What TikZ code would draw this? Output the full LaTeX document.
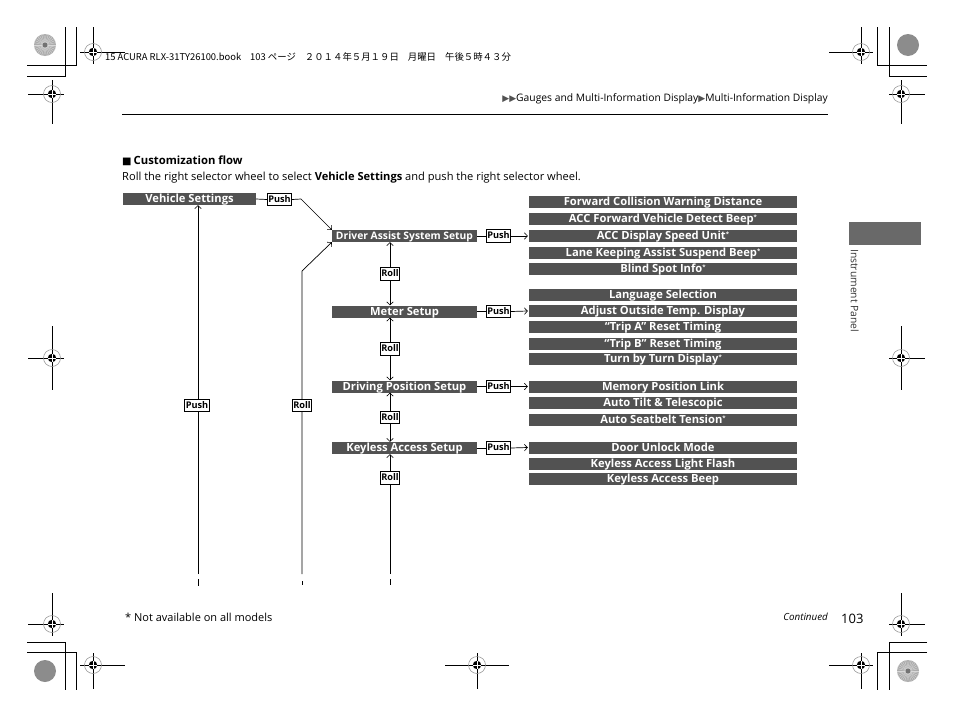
\documentclass[tikz,border=0pt]{standalone}
\usepackage{fontspec}
\setmainfont{Open Sans}
\newfontfamily\dejavu{DejaVu Sans}
\newfontfamily\jpfont{Noto Sans CJK JP}
\usetikzlibrary{arrows.meta}
\definecolor{boxgray}{RGB}{82,82,82}
\definecolor{tabgray}{RGB}{105,105,105}
\definecolor{markgray}{RGB}{140,140,140}
\newcommand{\fs}[1]{\fontsize{#1}{#1}\selectfont}
\newcommand{\starmark}{\raisebox{3pt}{\fs{6}*}}
\newcommand{\regmark}[6]{%
  \draw[line width=0.9pt] (#1-#3,#2) -- (#1+#4,#2) (#1,#2-#5) -- (#1,#2+#6);
  \draw[markgray,line width=0.5pt] (#1,#2) circle (8.5);
  \fill (#1,#2) circle (4.2);
  \draw[white,line width=0.7pt] (#1-4.2,#2) -- (#1+4.2,#2) (#1,#2-4.2) -- (#1,#2+4.2);
}
\newcommand{\soliddisk}[2]{\fill[gray!80!black!75] (#1,#2) circle (11);}
\newcommand{\patdisk}[2]{%
  \fill[gray!65] (#1,#2) circle (11);
  \foreach \a in {0,12,...,348} {\draw[white!70!gray,line width=0.35pt] (#1,#2) -- ++(\a:11);}
  \fill[gray!90!black] (#1,#2) circle (2.5);
}
\tikzset{
  gbox/.style={fill=boxgray,text=white,font=\bfseries\fs{11.2},minimum height=12pt,inner sep=0pt,text height=8pt,text depth=0.4pt},
  rbox/.style={gbox,minimum width=268pt},
  lbox/.style={gbox,minimum width=145pt},
  lab/.style={draw=black,line width=0.8pt,fill=white,font=\bfseries\fs{9.2},inner sep=1.1pt,text height=6.7pt,text depth=1.2pt,minimum height=12.5pt},
  conn/.style={line width=0.7pt},
  arr/.style={conn,-{Straight Barb[length=3pt,width=6.5pt,line width=0.6pt]}},
  darr/.style={conn,{Straight Barb[length=3pt,width=6.5pt,line width=0.6pt]}-{Straight Barb[length=3pt,width=6.5pt,line width=0.6pt]}},
  plain/.style={inner sep=0pt,anchor=base west},
}
\begin{document}
\begin{tikzpicture}[x=1pt,y=-1pt]
\useasboundingbox[fill=white] (0,0) rectangle (954,718);

% ---- printer marks ----
\patdisk{45}{45}
\soliddisk{908}{45}
\soliddisk{45}{671}
\patdisk{908}{671}
\begin{scope}[line width=0.9pt]
\draw (65,27) -- (65,76) -- (27,76);
\draw (76,27) -- (76,65) -- (27,65);
\draw (877,27) -- (877,65) -- (927,65);
\draw (889,27) -- (889,76) -- (927,76);
\draw (27,642) -- (65,642) -- (65,690);
\draw (27,652) -- (76,652) -- (76,690);
\draw (927,642) -- (889,642) -- (889,690);
\draw (927,652) -- (877,652) -- (877,690);
\end{scope}
\regmark{93}{52}{13}{32}{25}{12}
\regmark{52}{94}{24}{12}{14}{30}
\regmark{861}{52}{32}{12}{25}{12}
\regmark{901}{94}{12}{24}{14}{30}
\regmark{52}{358}{24}{12}{32}{32}
\regmark{901}{358}{12}{24}{32}{32}
\regmark{52}{624}{24}{12}{31}{12}
\regmark{901}{624}{12}{24}{31}{12}
\regmark{93}{665}{13}{32}{12}{24}
\regmark{861}{665}{32}{12}{12}{24}
\regmark{477}{665}{32}{32}{12}{24}

% ---- header ----
\node[plain] (hdr) at (105,60) {\jpfont\fs{9.4}15 ACURA RLX-31TY26100.book\hspace{9pt}103 ページ\hspace{9pt}２０１４年５月１９日\hspace{9pt}月曜日\hspace{9pt}午後５時４３分};
\node[inner sep=0pt,anchor=base east] (crumb) at (828,101.5) {\fs{10.3}{\color{boxgray}\dejavu\fs{9}▶▶}Gauges and Multi-Information Display{\color{boxgray}\dejavu\fs{9}▶}Multi-Information Display};
\draw[line width=0.8pt] (122,114) -- (828,114);

% ---- side tab ----
\fill[tabgray] (849,222) rectangle (921,245);
\node[inner sep=0pt,rotate=-90,anchor=north west,font=\fs{10.3},text=black!80] (tab) at (859,249) {Instrument Panel};

% ---- heading ----
\node[plain] (head) at (122,164) {{\dejavu\fs{10}■}\hspace{2pt}\bfseries\fs{11.3}Customization flow};
\node[plain] (intro) at (122,180) {\fs{11.1}Roll the right selector wheel to select \textbf{Vehicle Settings} and push the right selector wheel.};

% ---- left column ----
\node[gbox,minimum width=133pt] (vs) at (189.5,199) {Vehicle Settings};
\node[lab] (p0) at (279.5,199.5) {Push};
\node[lbox,font=\bfseries\fs{10.3}] (ds) at (404.5,236) {Driver Assist System Setup};
\node[lbox] (ms) at (404.5,311.5) {Meter Setup};
\node[lbox] (dp) at (404.5,386.5) {Driving Position Setup};
\node[lbox] (ka) at (404.5,448) {Keyless Access Setup};
\node[lab] (p1) at (498.5,236) {Push};
\node[lab] (p2) at (498.5,311.5) {Push};
\node[lab] (p3) at (498.5,386.5) {Push};
\node[lab] (p4) at (498.5,448) {Push};

% ---- right column ----
\node[rbox] (a1) at (663,202) {Forward Collision Warning Distance};
\node[rbox] (a2) at (663,219) {ACC Forward Vehicle Detect Beep\starmark};
\node[rbox] (a3) at (663,236) {ACC Display Speed Unit\starmark};
\node[rbox] (a4) at (663,252.5) {Lane Keeping Assist Suspend Beep\starmark};
\node[rbox] (a5) at (663,269) {Blind Spot Info\starmark};
\node[rbox] (b1) at (663,294.5) {Language Selection};
\node[rbox] (b2) at (663,311) {Adjust Outside Temp. Display};
\node[rbox] (b3) at (663,327) {“Trip A” Reset Timing};
\node[rbox] (b4) at (663,343.5) {“Trip B” Reset Timing};
\node[rbox] (b5) at (663,358.5) {Turn by Turn Display\starmark};
\node[rbox] (c1) at (663,386.5) {Memory Position Link};
\node[rbox] (c2) at (663,403) {Auto Tilt \& Telescopic};
\node[rbox] (c3) at (663,420) {Auto Seatbelt Tension\starmark};
\node[rbox] (d1) at (663,447.5) {Door Unlock Mode};
\node[rbox] (d2) at (663,463.5) {Keyless Access Light Flash};
\node[rbox] (d3) at (663,479) {Keyless Access Beep};

% ---- connectors ----
\coordinate (k0) at (301,199);
\coordinate (lp) at (198,574);
\coordinate (lr) at (302,574);
\coordinate (lrb) at (302,271);
\coordinate (lk) at (390,574);
\draw[conn] (vs.east) -- (p0.west);
\draw[arr] (p0.east) -- (k0) -- (ds.north west);
\draw[arr] (lp) -- (lp |- vs.south);
\draw[arr] (lr) -- (lrb) -- (ds.south west);
\foreach \s/\p/\t in {ds/p1/a3, ms/p2/b2, dp/p3/c1, ka/p4/d1} {
  \draw[conn] (\s.east) -- (\p.west);
  \draw[arr] (\p.east) -- ([xshift=-1pt]\t.west);
}
\draw[darr] (ds.south -| lk) -- node[lab] (r1) {Roll} (ms.north -| lk);
\draw[darr] (ms.south -| lk) -- node[lab] (r2) {Roll} (dp.north -| lk);
\draw[darr] (dp.south -| lk) -- node[lab] (r3) {Roll} (ka.north -| lk);
\draw[arr] (lk) -- (ka.south -| lk);
\node[lab] (r4) at (390,478) {Roll};
\node[lab] (q1) at (197,405.5) {Push};
\node[lab] (q2) at (302,405.5) {Roll};

% continuation ticks
\draw[conn] (198,579) -- (198,586) (302,581) -- (302,585) (390,579) -- (390,585);

% ---- footer ----
\node[plain] (note) at (125,621) {\fs{11}* Not available on all models};
\node[inner sep=0pt,anchor=base east] (cont) at (828,620) {\fs{9.8}\itshape Continued};
\node[plain] (page) at (841,623) {\fs{13}103};
\end{tikzpicture}
\end{document}
